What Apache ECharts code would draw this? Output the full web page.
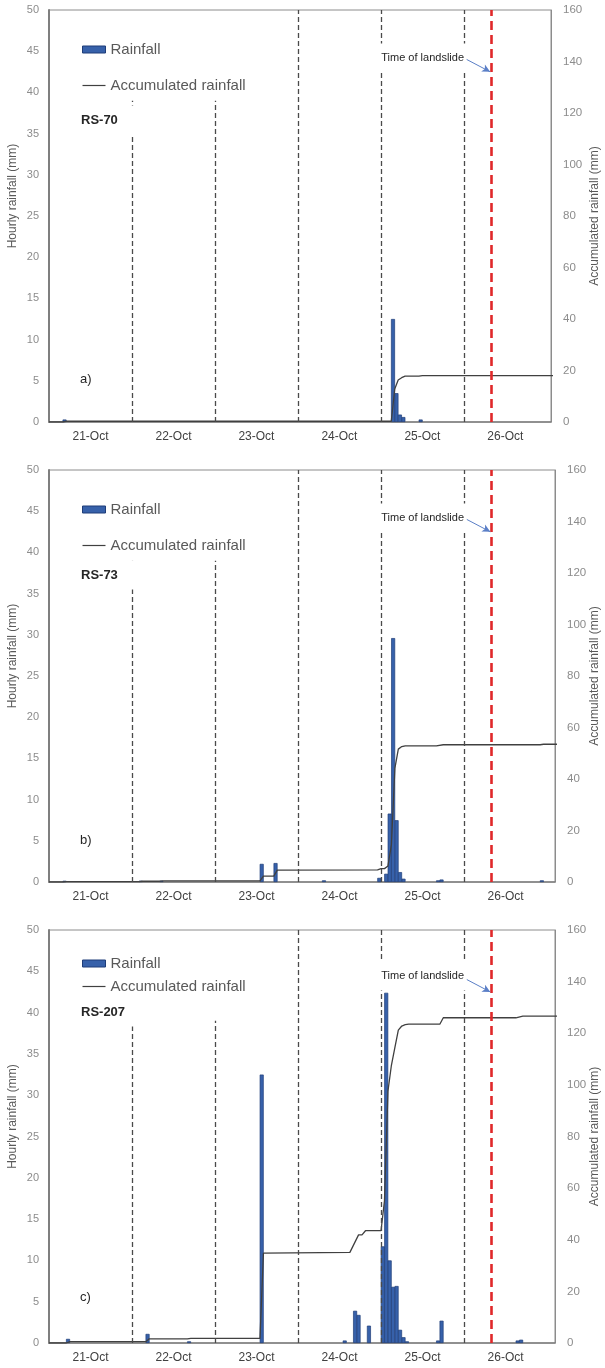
<!DOCTYPE html>
<html><head><meta charset="utf-8">
<script src="https://cdn.jsdelivr.net/npm/echarts@6/dist/echarts.min.js"></script>
<style>html,body{margin:0;padding:0;background:#fff}#c{width:605px;height:1368px}</style>
</head><body><div id="c"></div>
<script>
// hours counted from 21-Oct 00:00
const dayLabels = ['21-Oct', '22-Oct', '23-Oct', '24-Oct', '25-Oct', '26-Oct'];
const dayLabelHours = [12, 36, 60, 84, 108, 132];
const dayBoundaryHours = [24, 48, 72, 96, 120];
const shortBoundaryHours = [24, 48];      // boundaries drawn only up to shortBoundaryTop
const shortBoundaryTop = 39;
const landslideHour = 128;
const landslideArrowFrom = [120.8, 44];
const landslideArrowTo = [127.6, 42.5];
const stationNames = ['RS-70', 'RS-73', 'RS-207'];
const panelLetters = ['a)', 'b)', 'c)'];
const hourlyAxisMax = 50, hourlyAxisStep = 5;
const accAxisMax = 160, accAxisStep = 20;

// hourly rainfall: [hour, mm]  (bar spans hour .. hour+1)
const rainRS70 = [[4,0.3],[99,12.5],[100,3.5],[101,0.9],[102,0.6],[107,0.3]];
const rainRS73 = [[4,0.15],[26,0.15],[32,0.15],[61,2.2],[65,2.3],[79,0.2],[95,0.5],[97,1.0],[98,8.3],[99,29.6],[100,7.5],[101,1.2],[102,0.4],[112,0.2],[113,0.3],[142,0.2]];
const rainRS207 = [[5,0.5],[28,1.1],[40,0.2],[61,32.5],[85,0.3],[88,3.9],[89,3.4],[92,2.1],[96,11.7],[97,42.4],[98,10.0],[99,6.8],[100,6.9],[101,1.6],[102,0.7],[103,0.2],[112,0.3],[113,2.7],[135,0.3],[136,0.4]];

// accumulated rainfall: [hour, mm]
const accRS70 = [[0,0],[4,0],[5,0.3],[99,0.3],[100,12.8],[101,16.3],[102,17.2],[103,17.8],[107,17.8],[108,18.0],[147,18.0]];
const accRS73 = [[0,0],[4,0],[5,0.15],[26,0.15],[27,0.3],[32,0.3],[33,0.45],[61,0.45],[62,2.3],[65,2.3],[66,4.6],[95,4.7],[96,5.2],[97,5.2],[98,6.2],[99,14.5],[100,44.1],[101,51.6],[102,52.6],[103,52.9],[112,52.9],[114,53.3],[142,53.3],[143,53.5],[147,53.5]];
const accRS207 = [[0,0],[5,0],[6,0.5],[28,0.5],[29,1.6],[40,1.6],[41,1.8],[61,1.8],[62,34.8],[87,35.1],[89.5,41.9],[90.5,41.9],[91.5,43.5],[96,43.5],[97,55.2],[98,97.6],[99,107.6],[100,114.4],[101,121.2],[102,122.8],[103,123.3],[104,123.5],[113,123.5],[114,126.0],[135,126.0],[137,126.6],[147,126.6]];

const rainSets = [rainRS70, rainRS73, rainRS207];
const accSets = [accRS70, accRS73, accRS207];

const layout = [
  {top: 10, height: 412, width: 502, xMax: 145.2, legendTop: 37, legendGap: 21, rightGap: 38},
  {top: 470, height: 412, width: 506, xMax: 146.3, legendTop: 497, legendGap: 21, rightGap: 34},
  {top: 930, height: 413, width: 506, xMax: 146.3, legendTop: 951, legendGap: 8, rightGap: 34}
];

const FONT = 'Liberation Sans, Arial, sans-serif';
const grid = [], xAxis = [], yAxis = [], series = [], legend = [], graphic = [];

layout.forEach((L, i) => {
  grid.push({left: 49, top: L.top, width: L.width, height: L.height, show: true, borderColor: '#8c8c8c', borderWidth: 1,
    backgroundColor: 'transparent', outerBoundsMode: 'none', containLabel: false});
  xAxis.push({
    type: 'value', gridIndex: i, min: 0, max: L.xMax,
    splitLine: {show: false}, axisTick: {show: false},
    axisLine: {show: true, lineStyle: {color: '#7f7f7f', width: 1.5}},
    axisLabel: {customValues: dayLabelHours, formatter: v => dayLabels[dayLabelHours.indexOf(v)] || '',
      color: '#404040', fontSize: 12, fontFamily: FONT, margin: 9}
  });
  yAxis.push({
    type: 'value', gridIndex: i, min: 0, max: hourlyAxisMax, interval: hourlyAxisStep, position: 'left',
    name: 'Hourly rainfall (mm)', nameLocation: 'middle', nameGap: 30, nameRotate: 90, nameMoveOverlap: false,
    nameTextStyle: {color: '#595959', fontSize: 12, fontFamily: FONT, padding: [0, 0, 0, 40]},
    splitLine: {show: false}, axisTick: {show: false},
    axisLine: {show: true, lineStyle: {color: '#7f7f7f', width: 2}},
    axisLabel: {color: '#8c8c8c', fontSize: 11, fontFamily: FONT, margin: 10}
  });
  yAxis.push({
    type: 'value', gridIndex: i, min: 0, max: accAxisMax, interval: accAxisStep, position: 'right',
    name: 'Accumulated rainfall (mm)', nameLocation: 'middle', nameGap: L.rightGap, nameRotate: 90, nameMoveOverlap: false,
    nameTextStyle: {color: '#595959', fontSize: 12, fontFamily: FONT},
    splitLine: {show: false}, axisTick: {show: false},
    axisLine: {show: true, lineStyle: {color: '#8c8c8c', width: 1}},
    axisLabel: {color: '#8c8c8c', fontSize: 11.5, fontFamily: FONT, margin: 12}
  });

  const grayDash = {color: '#4a4a4a', type: [5, 3], width: 1.3};
  const markData = [];
  dayBoundaryHours.forEach(h => {
    if (shortBoundaryHours.includes(h)) {
      markData.push([{coord: [h, 0], lineStyle: grayDash}, {coord: [h, shortBoundaryTop]}]);
    } else {
      markData.push({xAxis: h, lineStyle: grayDash});
    }
  });
  markData.push({xAxis: landslideHour, lineStyle: {color: '#e0282a', type: [9, 5], width: 2.6}});
  markData.push([
    {coord: landslideArrowFrom, symbol: 'none', lineStyle: {color: '#5b7fc7', width: 1, type: 'solid'}},
    {coord: landslideArrowTo, symbol: 'arrow', symbolSize: [6, 8]}
  ]);

  series.push({
    name: 'Rainfall', type: 'bar', xAxisIndex: i, yAxisIndex: 2 * i,
    data: rainSets[i].map(d => [d[0] + 0.5, d[1]]),
    barWidth: 4,
    itemStyle: {color: '#3761aa', borderColor: '#1f3d78', borderWidth: 0.7},
    animation: false, z: 3,
    markLine: {silent: true, symbol: 'none', label: {show: false}, animation: false, data: markData}
  });
  series.push({
    name: 'Accumulated rainfall', type: 'line', xAxisIndex: i, yAxisIndex: 2 * i + 1,
    data: accSets[i], symbol: 'none', showSymbol: false,
    lineStyle: {color: '#404040', width: 1.3}, itemStyle: {color: '#404040'},
    animation: false, z: 4
  });
  legend.push({
    orient: 'vertical', left: 77, top: L.legendTop, itemGap: L.legendGap,
    itemWidth: 23, itemHeight: 7, itemStyle: {borderWidth: 0},
    textStyle: {color: '#595959', fontSize: 15, fontFamily: FONT},
    selectedMode: false,
    data: [
      {name: 'Rainfall', icon: 'rect', itemStyle: {color: '#3761aa', borderColor: '#1f3d78', borderWidth: 1}},
      {name: 'Accumulated rainfall', icon: 'path://M0,0H23V1.2H0Z', itemStyle: {color: '#404040', borderWidth: 0}}
    ]
  });
});

// annotation texts
const stationY = [120, 575, 1012];
const letterY = [379, 840, 1297];
const landslideTextY = [58, 518, 976];
layout.forEach((L, i) => {
  graphic.push({type: 'text', z: 100, x: 80, y: stationY[i],
    style: {text: stationNames[i], fill: '#262626', font: 'bold 13px ' + FONT, verticalAlign: 'middle', align: 'left',
      backgroundColor: '#fff', padding: [8, 20, 8, 1]}});
  graphic.push({type: 'text', z: 100, x: 80, y: letterY[i],
    style: {text: panelLetters[i], fill: '#262626', font: '13px ' + FONT, verticalAlign: 'middle', align: 'left'}});
  graphic.push({type: 'text', z: 100, x: 466, y: landslideTextY[i],
    style: {text: 'Time of landslide', fill: '#262626', font: '11px ' + FONT, verticalAlign: 'middle', align: 'right',
      backgroundColor: '#fff', padding: [9, 2, 9, 8]}});
});

const chart = echarts.init(document.getElementById('c'), null, {renderer: 'canvas'});
chart.setOption({animation: false, backgroundColor: '#fff', grid, xAxis, yAxis, series, legend, graphic});
</script></body></html>
